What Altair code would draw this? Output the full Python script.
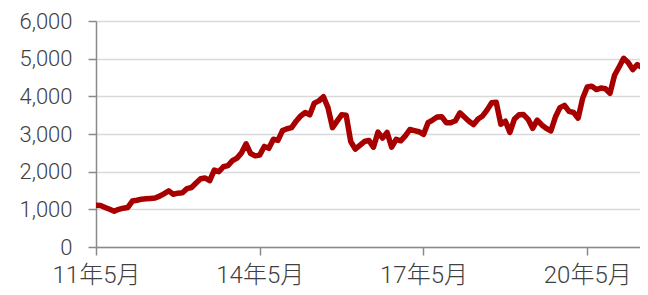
import altair as alt
import pandas as pd

months = list(range(121))  # 2011-05 .. 2021-05 (monthly index)
values = [
    1110, 1100, 1050, 1000, 950, 1000, 1030, 1050, 1220, 1240,
    1270, 1280, 1290, 1300, 1350, 1420, 1490, 1400, 1430, 1440,
    1550, 1580, 1700, 1810, 1830, 1760, 2040, 2000, 2130, 2160,
    2290, 2360, 2500, 2740, 2480, 2420, 2440, 2670, 2620, 2860,
    2830, 3090, 3140, 3170, 3340, 3480, 3570, 3510, 3820, 3880,
    3990, 3700, 3170, 3340, 3510, 3500, 2800, 2600, 2700, 2800,
    2830, 2650, 3050, 2890, 3040, 2650, 2860, 2820, 2950, 3120,
    3090, 3060, 2990, 3300, 3370, 3450, 3460, 3300, 3300, 3350,
    3560, 3450, 3340, 3250, 3400, 3480, 3640, 3830, 3840, 3260,
    3340, 3040, 3400, 3510, 3515, 3390, 3150, 3370, 3240, 3150,
    3080, 3450, 3700, 3760, 3600, 3570, 3420, 3950, 4250, 4270,
    4180, 4220, 4200, 4080, 4560, 4780, 5010, 4900, 4710, 4840,
    4770,
]
tick_positions = [0, 36, 72, 108]
tick_labels = ["11年5月", "14年5月", "17年5月", "20年5月"]
y_ticks = [0, 1000, 2000, 3000, 4000, 5000, 6000]

df = pd.DataFrame({"m": months, "v": values})

label_expr = "[" + ",".join("'" + t + "'" for t in tick_labels) + "][round(datum.value/36)]"

FONT = "Roboto, Noto Sans CJK JP"

chart = (
    alt.Chart(df)
    .mark_line(color="#a80000", strokeWidth=5.5, strokeJoin="round", strokeCap="round", clip=True)
    .encode(
        x=alt.X(
            "m:Q",
            scale=alt.Scale(domain=[0, 119.6], nice=False, zero=False),
            axis=alt.Axis(
                values=tick_positions,
                labelExpr=label_expr,
                title=None,
                grid=False,
                tickSize=8,
                tickColor="#8a8a8a",
                tickWidth=1.5,
                domainColor="#8a8a8a",
                domainWidth=1.5,
                labelPadding=8,
                labelFontSize=24,
                labelFont=FONT,
                labelFontWeight=300,
                labelColor="#404040",
                labelFlush=False,
            ),
        ),
        y=alt.Y(
            "v:Q",
            scale=alt.Scale(domain=[0, 6000], nice=False),
            axis=alt.Axis(
                values=y_ticks,
                format=",d",
                title=None,
                grid=True,
                gridColor="#d9d9d9",
                gridWidth=1.5,
                tickSize=8,
                tickColor="#8a8a8a",
                tickWidth=1.5,
                domainColor="#8a8a8a",
                domainWidth=1.5,
                labelPadding=16,
                labelFontSize=22,
                labelFont=FONT,
                labelFontWeight=300,
                labelColor="#404040",
            ),
        ),
    )
    .properties(
        width=544,
        height=226,
        autosize=alt.AutoSizeParams(type="none"),
        padding={"left": 88, "top": 13, "right": 0, "bottom": 40},
    )
    .configure_view(stroke=None)
)

chart.save("out.html", embed_options={"renderer": "svg", "actions": False})
